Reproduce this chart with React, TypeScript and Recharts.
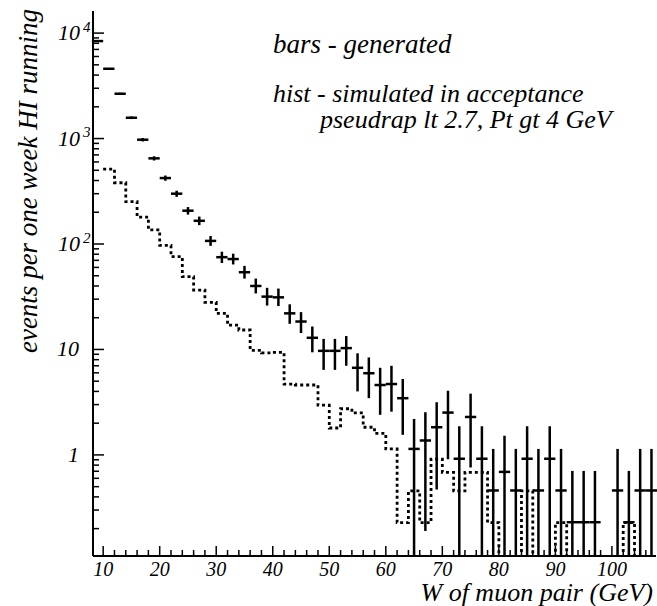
import { ComposedChart, ErrorBar, Line, Scatter, XAxis, YAxis } from "recharts";

// generated W spectrum, 2 GeV bins (bin centres), bars with errors
const binCenters = [
  9, 11, 13, 15, 17, 19, 21, 23, 25, 27, 29, 31, 33, 35, 37, 39, 41, 43, 45, 47, 49, 51, 53, 55, 57,
  59, 61, 63, 65, 67, 69, 71, 73, 75, 77, 79, 81, 83, 85, 87, 89, 91, 93, 95, 97, 101, 103, 105, 107
];
const generated = [
  8400, 4590, 2660, 1575, 975, 649, 422, 300, 207, 166, 107, 75, 72, 54, 40, 31.7, 31.2, 22, 18.4,
  12.9, 9.7, 9.7, 10.3, 6.7, 5.95, 4.6, 4.7, 3.45, 1.14, 1.37, 1.83, 2.52, 0.92, 2.29, 0.92, 0.46,
  0.69, 0.46, 0.92, 0.46, 0.92, 0.46, 0.23, 0.23, 0.23, 0.46, 0.23, 0.46, 0.46
];
const generatedHigh = [
  8510, 4670, 2720, 1620, 1012, 679, 446, 320, 224, 182, 119, 84.5, 81, 62, 47, 38.4, 37.8, 26.8,
  22.6, 16.5, 12.6, 12.6, 13.4, 9.2, 8.4, 6.7, 7.0, 5.25, 2.19, 2.54, 3.16, 4.06, 1.87, 3.81, 1.87,
  1.14, 1.52, 1.14, 1.87, 1.14, 1.87, 1.14, 0.705, 0.705, 0.705, 1.14, 0.705, 1.14, 1.14
];
// 0 = error bar runs down to the axis
const generatedLow = [
  8290, 4510, 2600, 1530, 938, 619, 398, 280, 190, 151, 96, 66, 64, 47, 34, 26.1, 25.8, 17.5, 14.3,
  9.4, 6.4, 6.4, 7.0, 4.0, 3.45, 2.4, 2.57, 1.55, 0, 0.19, 0.47, 0.91, 0, 0.76, 0, 0, 0, 0, 0, 0, 0,
  0, 0, 0, 0, 0, 0, 0, 0
];

// simulated in acceptance, left bin edges
const histEdges = [
  10, 12, 14, 16, 18, 20, 22, 24, 26, 28, 30, 32, 34, 36, 38, 40, 42, 44, 46, 48, 50, 52, 54, 56, 58,
  60, 62, 64, 66, 68, 70, 72, 74, 76, 78, 80, 82, 84, 86, 88, 90, 92, 94, 96, 98, 100, 102, 104, 106
];
const simulated = [
  514, 381, 252, 180, 136, 97, 76, 49, 36.6, 28, 22, 17, 15.3, 9.8, 9.3, 9.4, 4.7, 4.6, 4.6, 2.96,
  1.8, 2.74, 2.5, 1.83, 1.6, 1.14, 0.228, 0.456, 0.228, 0.912, 0.684, 0.456, 0.684, 0.684, 0.228, 0,
  0, 0.456, 0, 0, 0.228, 0, 0, 0, 0, 0, 0.228, 0, 0
];
const histEnd = 108;

const xLabels = [10, 20, 30, 40, 50, 60, 70, 80, 90, 100];
const yDecades = [1, 10, 100, 1000, 10000];

const X_MIN = 8.2;
const X_MAX = 107.8;
const Y_MIN = 0.11;
const Y_MAX = 16200;
const FLOOR = 0.01; // empty bins go below the axis and get clipped

const FONT = "'Liberation Serif', 'Times New Roman', serif";

const xTicks: number[] = [];
for (let v = 10; v <= 106; v += 2) xTicks.push(v);

const yTicks: number[] = [];
[0.1, 1, 10, 100, 1000].forEach((d) => {
  for (let m = 1; m <= 9; m++) {
    const v = m * d;
    if (v >= Y_MIN && v <= Y_MAX) yTicks.push(v);
  }
});
yTicks.push(10000);

const genData = binCenters.map((x, i) => {
  const lo = generatedLow[i] > 0 ? generatedLow[i] : Y_MIN;
  return {
    x,
    y: generated[i],
    ex: 1,
    ey: [generated[i] - lo, generatedHigh[i] - generated[i]]
  };
});

const histData = histEdges.map((x, i) => ({ x, y: Math.max(simulated[i], FLOOR) }));
histData.push({ x: histEnd, y: Math.max(simulated[simulated.length - 1], FLOOR) });

function XTick(props: any) {
  const { x, y, payload } = props;
  const major = xLabels.includes(payload.value);
  return (
    <g>
      <line x1={x} x2={x} y1={y} y2={y - (major ? 10 : 6)} stroke="#000" strokeWidth={1.5} />
      {major && (
        <text x={x} y={y + 20} textAnchor="middle" fontFamily={FONT} fontStyle="italic" fontSize={20} fill="#000">
          {payload.value}
        </text>
      )}
    </g>
  );
}

function YTick(props: any) {
  const { x, y, payload } = props;
  const v = payload.value;
  const exp = Math.round(Math.log10(v));
  const major = yDecades.some((d) => Math.abs(d - v) < 1e-6 * d);
  let label = null;
  if (major) {
    if (exp >= 2) {
      label = (
        <g>
          <text x={x - 13} y={y + 7} textAnchor="end" fontFamily={FONT} fontStyle="italic" fontSize={22} fill="#000">
            10
          </text>
          <text x={x - 10} y={y - 1.5} fontFamily={FONT} fontStyle="italic" fontSize={15} fill="#000">
            {exp}
          </text>
        </g>
      );
    } else {
      label = (
        <text x={x - 14} y={y + 7} textAnchor="end" fontFamily={FONT} fontStyle="italic" fontSize={22} fill="#000">
          {exp === 1 ? "10" : "1"}
        </text>
      );
    }
  }
  return (
    <g>
      <line x1={x} x2={x + (major ? 11 : 6)} y1={y} y2={y} stroke="#000" strokeWidth={1.5} />
      {label}
    </g>
  );
}

const noMarker = () => <g />;

export default function App() {
  return (
    <div style={{ position: "absolute", left: 0, top: 0, width: 657, height: 606, background: "#fff" }}>
      <ComposedChart width={657} height={606} margin={{ top: 11, right: 1, bottom: 0, left: 33 }}>
        <XAxis
          type="number"
          dataKey="x"
          domain={[X_MIN, X_MAX]}
          allowDataOverflow
          ticks={xTicks}
          interval={0}
          tickSize={0}
          tickMargin={0}
          tickLine={false}
          tick={<XTick />}
          axisLine={{ stroke: "#000", strokeWidth: 2 }}
          height={50}
        />
        <XAxis
          xAxisId="top"
          orientation="top"
          type="number"
          domain={[X_MIN, X_MAX]}
          allowDataOverflow
          tick={false}
          tickLine={false}
          axisLine={{ stroke: "#000", strokeWidth: 2 }}
          height={0}
        />
        <YAxis
          type="number"
          scale="log"
          domain={[Y_MIN, Y_MAX]}
          allowDataOverflow
          ticks={yTicks}
          interval={0}
          tickSize={0}
          tickMargin={0}
          tickLine={false}
          tick={<YTick />}
          axisLine={{ stroke: "#000", strokeWidth: 2 }}
          width={60}
        />
        <YAxis
          yAxisId="right"
          orientation="right"
          type="number"
          domain={[0, 1]}
          tick={false}
          tickLine={false}
          axisLine={{ stroke: "#000", strokeWidth: 1.5 }}
          width={0}
        />
        <Line
          data={histData}
          dataKey="y"
          type="stepAfter"
          stroke="#000"
          strokeWidth={2.8}
          strokeDasharray="3 3"
          dot={false}
          activeDot={false}
          isAnimationActive={false}
        />
        <Scatter data={genData} dataKey="y" shape={noMarker} isAnimationActive={false}>
          <ErrorBar dataKey="ex" direction="x" width={0} stroke="#000" strokeWidth={2.5} />
          <ErrorBar dataKey="ey" direction="y" width={0} stroke="#000" strokeWidth={2.5} />
        </Scatter>

        <text x={273} y={53} fontFamily={FONT} fontStyle="italic" fontSize={27} fill="#000">
          bars - generated
        </text>
        <text x={273} y={102} fontFamily={FONT} fontStyle="italic" fontSize={26} fill="#000">
          hist - simulated in acceptance
        </text>
        <text x={320} y={128} fontFamily={FONT} fontStyle="italic" fontSize={26} fill="#000">
          pseudrap lt 2.7, Pt gt 4 GeV
        </text>
        <text x={653} y={601} textAnchor="end" fontFamily={FONT} fontStyle="italic" fontSize={26} fill="#000">
          W of muon pair (GeV)
        </text>
        <text
          transform="translate(37,181) rotate(-90)"
          textAnchor="middle"
          fontFamily={FONT}
          fontStyle="italic"
          fontSize={27}
          fill="#000"
        >
          events per one week HI running
        </text>
      </ComposedChart>
    </div>
  );
}
